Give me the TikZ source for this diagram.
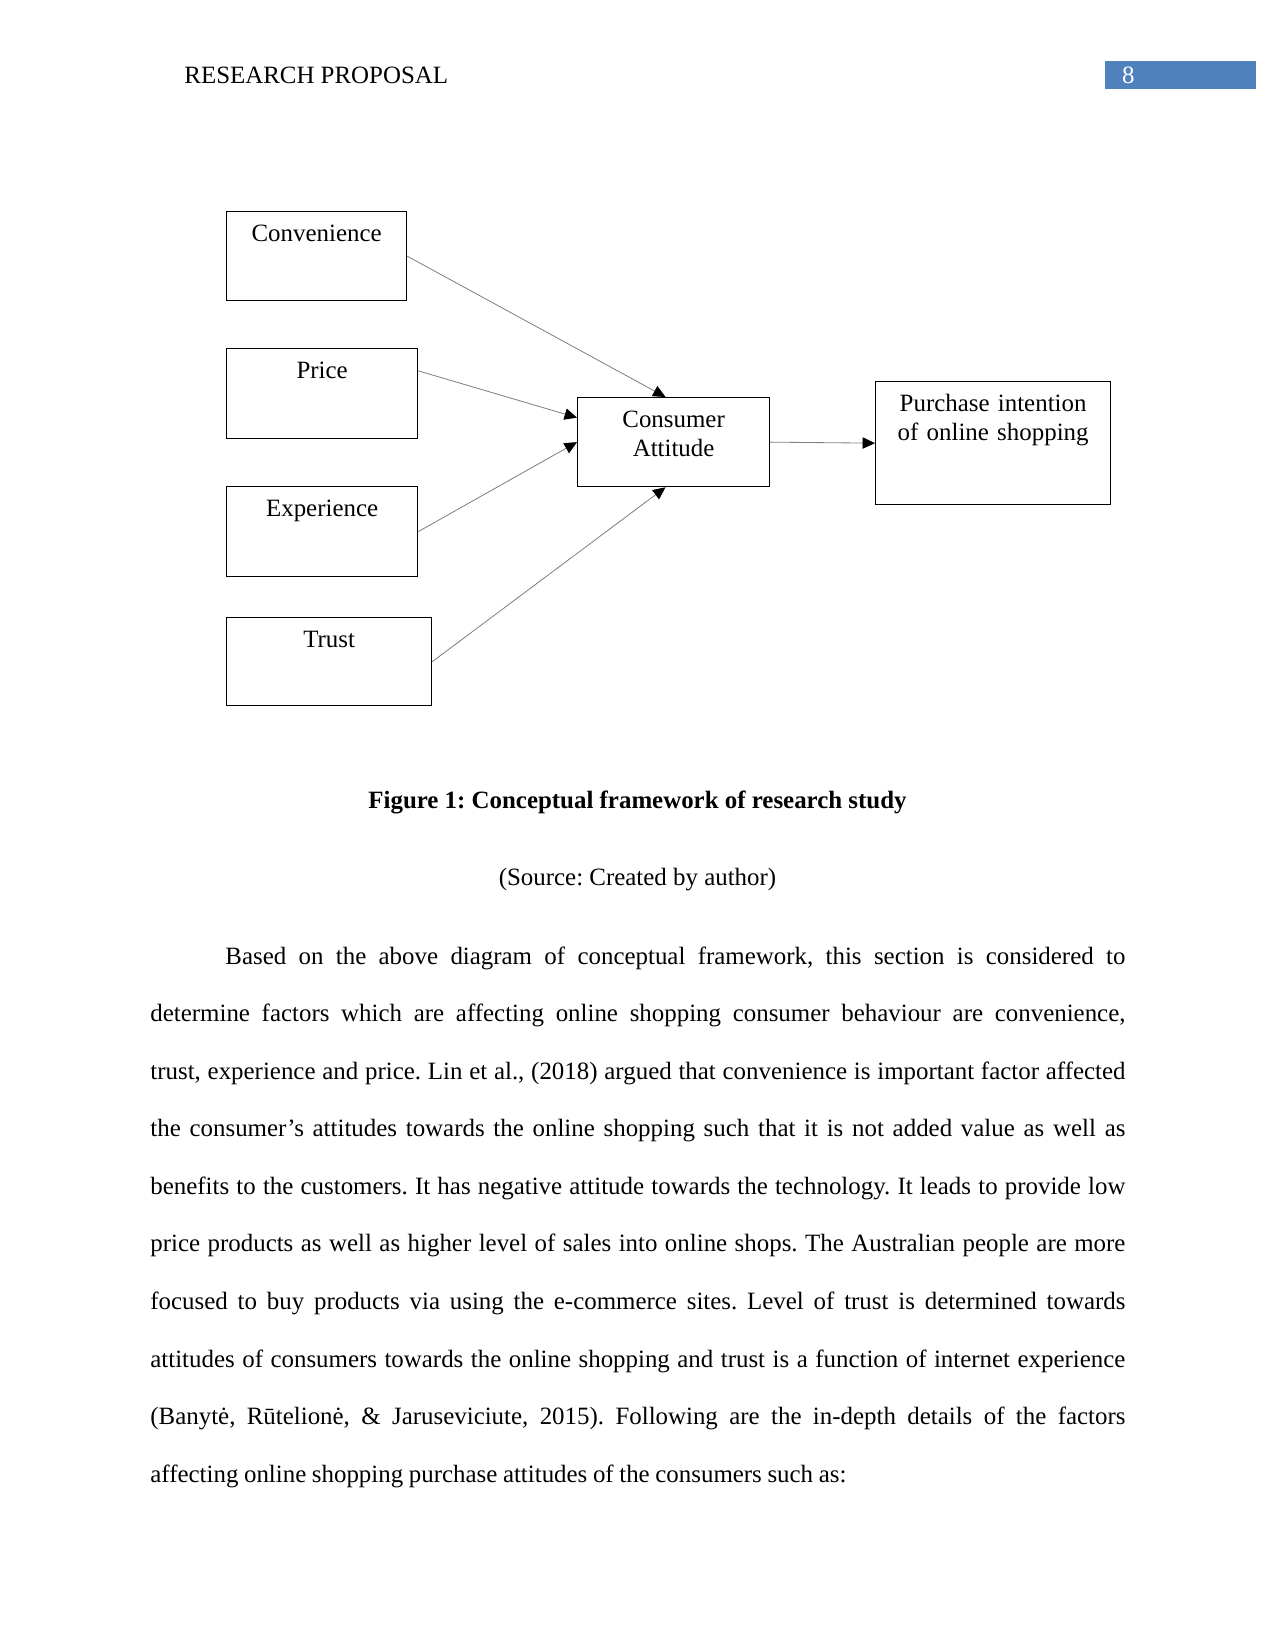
\documentclass[tikz,border=0pt]{standalone}
\usepackage{fontspec}
\setmainfont{Liberation Serif}
\usepackage{tikz}
\usetikzlibrary{arrows.meta,positioning}
\definecolor{HeadBlue}{HTML}{4F81BD}
\definecolor{LinkGray}{gray}{0.5}
\tikzset{
  factor/.style={
    draw=black,
    line width=0.6pt,
    anchor=north west,
    inner sep=0pt,
    align=center,
    text height=14.6pt,
    font=\fontsize{12}{13.8}\selectfont
  },
  linkarrow/.style={
    -{Triangle[length=6pt,width=5.5pt,color=black]},
    line width=0.4pt,
    draw=LinkGray
  },
  bodytext/.style={
    inner sep=0pt,
    font=\fontsize{12}{27.75}\selectfont
  }
}
\frenchspacing

\begin{document}
\begin{tikzpicture}[x=0.4818pt, y=-0.4818pt]
\useasboundingbox (0,0) rectangle (1275,1651);

% running head
\node[bodytext, anchor=base west] (head) at (184,84) {RESEARCH PROPOSAL};
\node[bodytext, anchor=north west, fill=HeadBlue, text=white, align=left,
      inner xsep=8pt, text width=56.75pt, minimum height=13.3pt] (pagenum) at (1105,61) {8};

% boxes
\node[factor, text width=86.7pt, text depth=28.3pt] (conv) at (226,211) {Convenience};
\node[factor, text width=92pt, text depth=28.8pt] (price) at (226,348) {Price};
\node[factor, text width=92pt, text depth=28.8pt] (expe) at (226,486) {Experience};
\node[factor, text width=98.8pt, text depth=27.8pt] (trust) at (226,617) {Trust};
\node[factor, text width=92.5pt, text depth=28.3pt] (cons) at (577,397) {Consumer\\Attitude};
\node[factor, text width=113.2pt, text depth=44.7pt] (purch) at (875,381) {Purchase intention\\of online shopping};

\draw[linkarrow] (conv.east) -- ([xshift=-3.9pt]cons.north);
\draw[linkarrow] ([yshift=11pt]price.east) -- ([yshift=11.8pt]cons.west);
\draw[linkarrow] (expe.east) -- (cons.west);
\draw[linkarrow] (trust.east) -- ([xshift=-3.9pt]cons.south);
\draw[linkarrow] (cons.east) -- (purch.west);

% caption
\node[bodytext, anchor=base] (caption) at (637.5,808) {\textbf{Figure 1: Conceptual framework of research study}};
\node[bodytext, anchor=base] (source) at (637.5,885) {(Source: Created by author)};

% paragraph, one line per \par
\node[bodytext, anchor=base west, text width=6.5in, align=justify] (para) at (150,964) {%
\parindent=0pt \parfillskip=0pt \spaceskip=2.7pt plus 6pt minus 1pt
\tolerance=10000 \pretolerance=10000 \hyphenpenalty=10000
\hspace*{0.5in}Based on the above diagram of conceptual framework, this section is considered to\par
determine factors which are affecting online shopping consumer behaviour are convenience,\par
trust, experience and price. Lin et al., (2018) argued that convenience is important factor affected\par
the consumer’s attitudes towards the online shopping such that it is not added value as well as\par
benefits to the customers. It has negative attitude towards the technology. It leads to provide low\par
price products as well as higher level of sales into online shops. The Australian people are more\par
focused to buy products via using the e-commerce sites. Level of trust is determined towards\par
attitudes of consumers towards the online shopping and trust is a function of internet experience\par
(Banytė, Rūtelionė, \& Jaruseviciute, 2015). Following are the in-depth details of the factors\par
\parfillskip=0pt plus 1fil
affecting online shopping purchase attitudes of the consumers such as:\par};
\end{tikzpicture}
\end{document}
